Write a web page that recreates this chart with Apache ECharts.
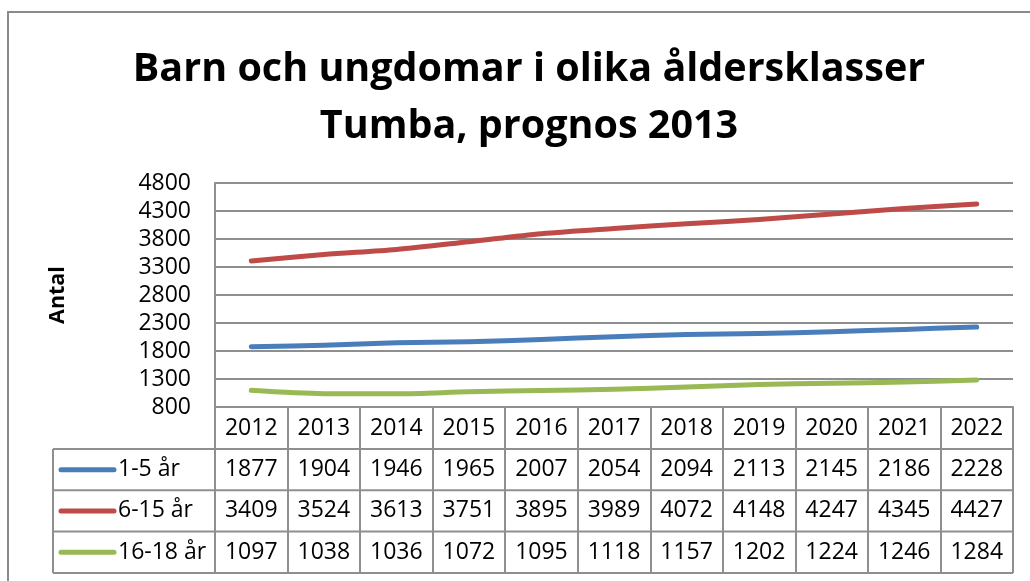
<!DOCTYPE html>
<html>
<head>
<meta charset="utf-8">
<script src="https://cdn.jsdelivr.net/npm/echarts@6/dist/echarts.min.js"></script>
<style>
html,body{margin:0;padding:0;background:#fff;}
#main{width:1030px;height:581px;}
</style>
</head>
<body>
<div id="main"></div>
<script>
const titleLines = ['Barn och ungdomar i olika åldersklasser', 'Tumba, prognos 2013'];
const yAxisName = 'Antal';
const years = ['2012','2013','2014','2015','2016','2017','2018','2019','2020','2021','2022'];
const seriesNames = ['1-5 år', '6-15 år', '16-18 år'];
const age1to5 = [1877, 1904, 1946, 1965, 2007, 2054, 2094, 2113, 2145, 2186, 2228];
const age6to15 = [3409, 3524, 3613, 3751, 3895, 3989, 4072, 4148, 4247, 4345, 4427];
const age16to18 = [1097, 1038, 1036, 1072, 1095, 1118, 1157, 1202, 1224, 1246, 1284];
const yMin = 800, yMax = 4800, yStep = 500;

const colors = ['#4A7EBB', '#BE4B48', '#98B954'];
const gridColor = '#8f8f8f';
const FONT = '"Open Sans", sans-serif';
const FS = 23;
const dataRows = [age1to5, age6to15, age16to18];

const chart = echarts.init(document.getElementById('main'));

const option = {
  animation: false,
  backgroundColor: '#fff',
  title: {
    text: titleLines.join('\n'),
    left: 524,
    textAlign: 'center',
    top: 36,
    textStyle: { fontFamily: FONT, fontWeight: 'bold', fontSize: 39.5, lineHeight: 57, color: '#000' }
  },
  grid: { left: 215, right: 17, top: 183, bottom: 174, containLabel: false },
  xAxis: {
    type: 'category',
    data: years,
    boundaryGap: true,
    axisLine: { show: true, lineStyle: { color: gridColor, width: 2 } },
    axisTick: { show: true, interval: 0, length: 166, lineStyle: { color: gridColor, width: 2 } },
    axisLabel: { interval: 0, margin: 0, lineHeight: 42, fontFamily: FONT, fontSize: FS, color: '#000' },
    splitLine: { show: false }
  },
  yAxis: {
    type: 'value',
    min: yMin, max: yMax, interval: yStep,
    name: yAxisName,
    nameLocation: 'middle',
    nameRotate: 90,
    nameGap: 146,
    nameTextStyle: { fontFamily: FONT, fontWeight: 'bold', fontSize: 21.5, color: '#000' },
    axisLine: { show: true, lineStyle: { color: gridColor, width: 2 } },
    axisTick: { show: false },
    axisLabel: { margin: 24, fontFamily: FONT, fontSize: FS, color: '#000', formatter: v => String(v) },
    splitLine: { show: true, lineStyle: { color: gridColor, width: 2 } }
  },
  series: seriesNames.map((name, i) => ({
    name,
    type: 'line',
    data: dataRows[i],
    smooth: 0.3,
    showSymbol: false,
    symbol: 'none',
    lineStyle: { color: colors[i], width: 5, cap: 'round', join: 'round' },
    itemStyle: { color: colors[i] },
    z: 3 - i + 2
  }))
};
chart.setOption(option);

// Build data table from axis positions
const xs = years.map((y, i) => chart.convertToPixel({ xAxisIndex: 0 }, i));
const half = (xs[1] - xs[0]) / 2;
const tableLeft = 53;
const tableRight = xs[xs.length - 1] + half;
const axisY = chart.convertToPixel({ yAxisIndex: 0 }, yMin);
const headerH = 42, rowH = 41.3;
const elements = [];

// outer chart border
elements.push({ type: 'polyline', shape: { points: [[8, 600], [8, 12], [1040, 12]] },
  style: { stroke: '#8a8a8a', lineWidth: 2, fill: null }, silent: true });

const rowTops = [0, 1, 2, 3].map(r => axisY + headerH + r * rowH);
rowTops.forEach(y => {
  elements.push({ type: 'line', shape: { x1: tableLeft, y1: y, x2: tableRight, y2: y },
    style: { stroke: gridColor, lineWidth: 2 }, silent: true });
});
elements.push({ type: 'line', shape: { x1: tableLeft, y1: rowTops[0], x2: tableLeft, y2: rowTops[3] },
  style: { stroke: gridColor, lineWidth: 2 }, silent: true });

dataRows.forEach((row, r) => {
  const cy = rowTops[r] + rowH / 2;
  elements.push({ type: 'line', shape: { x1: 61, y1: cy, x2: 114, y2: cy },
    style: { stroke: colors[r], lineWidth: 5, lineCap: 'round' }, silent: true });
  elements.push({ type: 'text', x: 118, y: cy,
    style: { text: seriesNames[r], font: FS + 'px ' + FONT, fill: '#000', textAlign: 'left', textVerticalAlign: 'middle' }, silent: true });
  row.forEach((v, i) => {
    elements.push({ type: 'text', x: xs[i], y: cy,
      style: { text: String(v), font: FS + 'px ' + FONT, fill: '#000', textAlign: 'center', textVerticalAlign: 'middle' }, silent: true });
  });
});

chart.setOption({ graphic: { elements } });
</script>
</body>
</html>
